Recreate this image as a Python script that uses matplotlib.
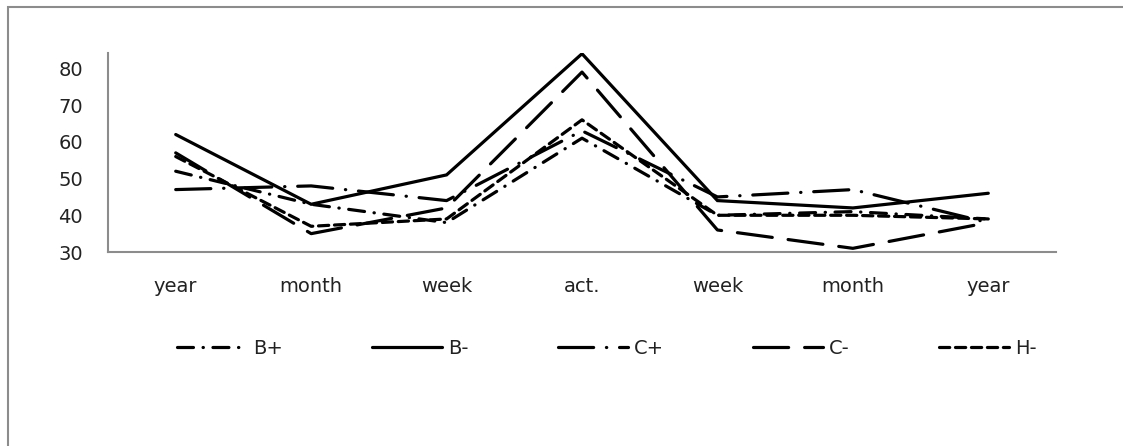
import matplotlib.pyplot as plt
from matplotlib.patches import Rectangle
import numpy as np

categories = ['year', 'month', 'week', 'act.', 'week', 'month', 'year']
series_names = ['B+', 'B-', 'C+', 'C-', 'H-']
b_plus = [52, 43, 38, 61, 40, 41, 39]
b_minus = [62, 43, 51, 84, 44, 42, 46]
c_plus = [47, 48, 44, 63, 45, 47, 38]
c_minus = [57, 35, 42, 79, 36, 31, 38]
h_minus = [56, 37, 39, 66, 40, 40, 39]

plt.rcParams['font.family'] = ['DejaVu Sans']

fig = plt.figure(figsize=(11.23, 4.46), dpi=100)
W, H = 1123, 446

# outer chart border
fig.patches.append(Rectangle((8 / W, -0.1), 1.2, 1 - 6.5 / H + 0.1, transform=fig.transFigure,
                             fill=False, edgecolor='#8c8c8c', linewidth=1.5))

ax = fig.add_axes([108 / W, 1 - 252 / H, (1056 - 108) / W, (252 - 53) / H])

styles = {
    'B+': (0, (5, 3, 0.1, 3)),
    'B-': '-',
    'C+': (0, (11, 4, 0.1, 4)),
    'C-': (0, (11, 5)),
    'H-': (0, (3.2, 1.8)),
}
data = {'B+': b_plus, 'B-': b_minus, 'C+': c_plus, 'C-': c_minus, 'H-': h_minus}

x = np.arange(len(categories))
for name in series_names:
    ax.plot(x, data[name], color='black', linewidth=2.3, linestyle=styles[name],
            dash_capstyle='round', solid_capstyle='round', solid_joinstyle='miter',
            label=name)

ax.set_xlim(-0.5, len(categories) - 0.5)
ax.set_ylim(30, 84.2)
ax.set_yticks([30, 40, 50, 60, 70, 80])
ax.set_xticks(x)
ax.set_xticklabels(categories)
ax.tick_params(axis='both', length=0, labelsize=14, colors='#222222')
ax.tick_params(axis='y', pad=18)
ax.tick_params(axis='x', pad=18)
for s in ['top', 'right']:
    ax.spines[s].set_visible(False)
for s in ['left', 'bottom']:
    ax.spines[s].set_color('#8c8c8c')
    ax.spines[s].set_linewidth(1.5)

leg = fig.legend(loc='center', bbox_to_anchor=(607 / W, 1 - 348 / H), ncol=5, frameon=False,
                 fontsize=14, handlelength=3.6, columnspacing=4.6, handletextpad=0.3)
for t in leg.get_texts():
    t.set_color('#222222')

fig.savefig('out.png', dpi=100)
